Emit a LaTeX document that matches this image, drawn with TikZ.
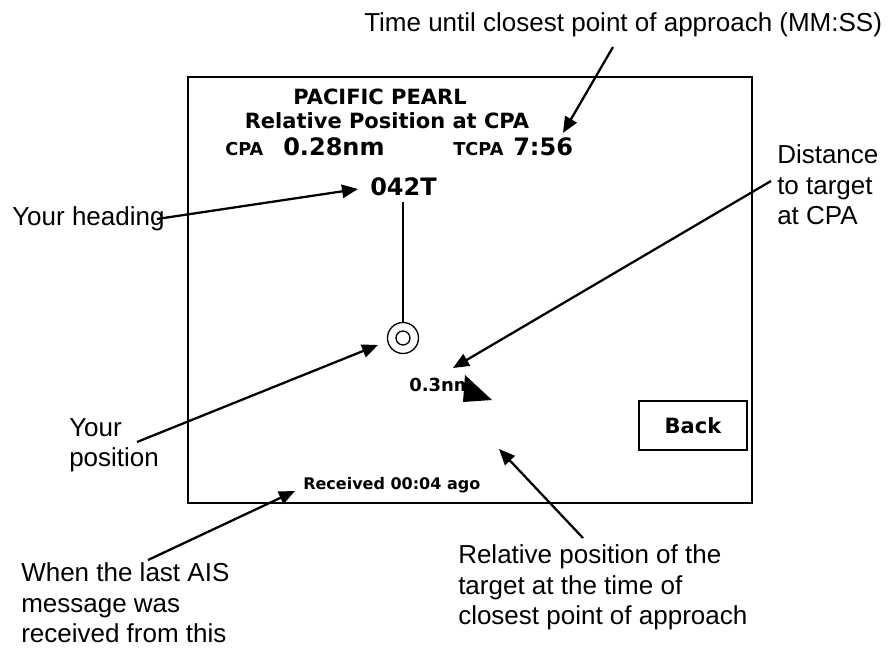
\documentclass[tikz,border=0pt]{standalone}
\usepackage{fontspec}
\setmainfont{Liberation Sans}
\newfontfamily\screenfont{DejaVu Sans}
\usetikzlibrary{arrows.meta}
\newcommand{\callout}[4]{\node[callout] (#1) at (#2,#3) {#4};}
\newcommand{\pointer}[2]{\draw[pointer] (#1) -- (#2);}
\tikzset{
  callout/.style={anchor=base west, inner sep=0pt, align=left,
    font=\fontsize{19.5}{23}\selectfont},
  screen/.style={inner sep=0pt, anchor=base west},
  huge/.style={font=\screenfont\bfseries\fontsize{18}{20}\selectfont},
  large/.style={font=\screenfont\bfseries\fontsize{15.75}{18}\selectfont},
  small/.style={font=\screenfont\bfseries\fontsize{13.3}{15}\selectfont},
  tiny/.style={font=\screenfont\bfseries\fontsize{12}{14}\selectfont},
  pointer/.style={line width=1.7pt, -{Triangle[length=12pt,width=10pt]}},
}

\begin{document}
\begin{tikzpicture}[x=0.75pt,y=-0.75pt]
\useasboundingbox (0,0) rectangle (894,648);
% screen frame
\draw[line width=1.5pt] (188,77) rectangle (752,503);
% screen header
\node[screen,large,anchor=base] (ship) at (380,105) {PACIFIC PEARL};
\node[screen,large,anchor=base] (title) at (387,129) {Relative Position at CPA};
\node[screen,small] (cpalbl) at (225,156) {CPA};
\node[screen,huge] (cpaval) at (283,156) {0.28nm};
\node[screen,small] (tcpalbl) at (453,156) {TCPA};
\node[screen,huge] (tcpaval) at (513,156) {7:56};
% own ship and heading
\node[screen,huge] (hdg) at (370,196) {042T};
\coordinate (hdgtop) at (403,202);
\node[circle,draw,line width=1pt,minimum size=23.25pt,inner sep=0pt] (own) at (403,338) {};
\node[circle,draw,line width=1pt,minimum size=10.5pt,inner sep=0pt] (owncore) at (own.center) {};
\draw[line width=0.8pt] (own.north) -- (hdgtop);
% target at CPA
\node[screen,font=\screenfont\bfseries\fontsize{13.5}{15}\selectfont] (range) at (409,392) {0.3nm};
\fill (465,375) -- (492,400) -- (463,402) -- cycle;
% button and status
\node[draw,line width=1.5pt,minimum width=81pt,minimum height=36.75pt,large] (back) at (693,425.5) {Back};
\node[screen,tiny] (rcvd) at (303,490) {Received 00:04 ago};
% callouts
\callout{tcpanote}{364}{32}{Time until closest point of approach (MM:SS)}
\callout{distnote}{777}{225}{Distance\\to target\\at CPA}
\callout{hdgnote}{12}{226}{Your heading}
\callout{posnote}{69}{467}{Your\\position}
\callout{aisnote}{21}{643}{When the last AIS\\message was\\received from this}
\callout{relnote}{458}{625}{Relative position of the\\target at the time of\\closest point of approach}
% pointer ends
\coordinate (tcpafrom) at (613,47);   \coordinate (tcpato) at (563,133);
\coordinate (distfrom) at (771,181);  \coordinate (distto) at (453,368);
\coordinate (hdgfrom) at (157,219);   \coordinate (hdgto) at (358,189);
\coordinate (posfrom) at (137,442);   \coordinate (posto) at (378,345);
\coordinate (aisfrom) at (148,560);   \coordinate (aisto) at (295,491);
\coordinate (relfrom) at (583,538);   \coordinate (relto) at (499,449);
% pointers
\pointer{tcpafrom}{tcpato}
\pointer{distfrom}{distto}
\pointer{hdgfrom}{hdgto}
\pointer{posfrom}{posto}
\pointer{aisfrom}{aisto}
\pointer{relfrom}{relto}
\end{tikzpicture}
\end{document}
